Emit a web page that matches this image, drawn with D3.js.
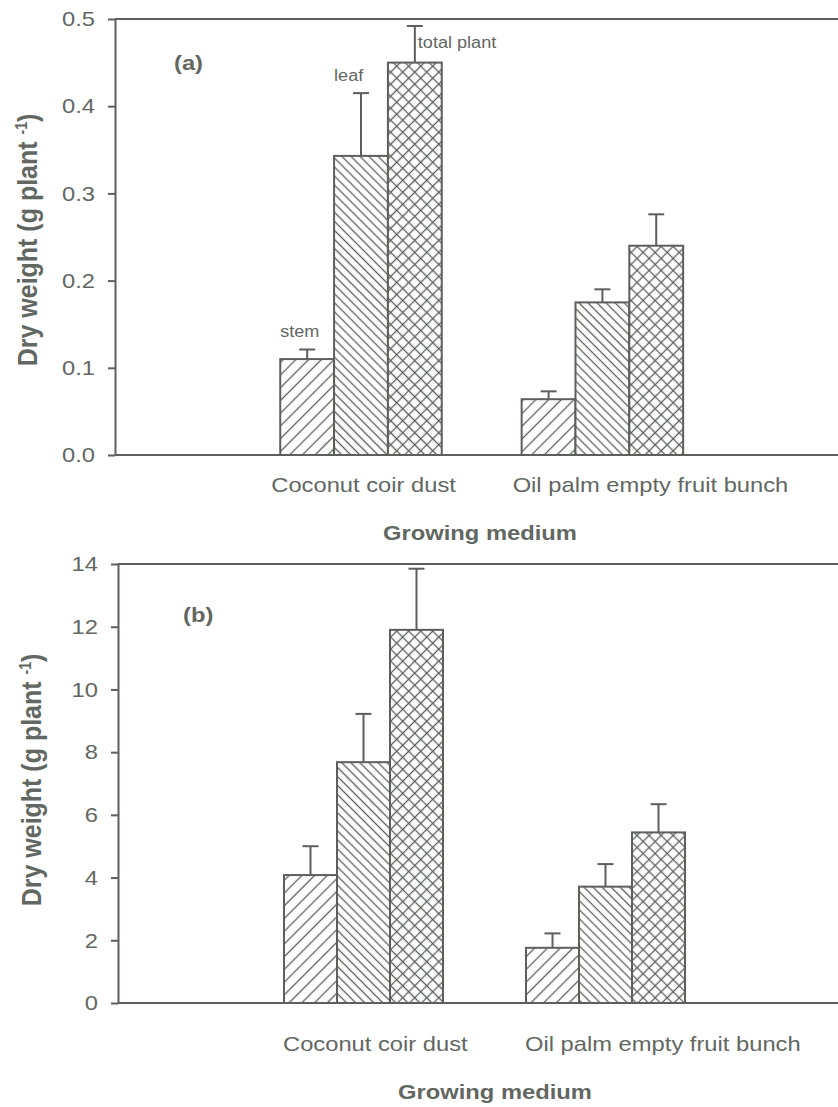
<!DOCTYPE html>
<html lang="en">
<head>
    <meta charset="UTF-8">
    <script src="https://d3js.org/d3.v7.min.js"></script>
    <style>
        body {margin: 0; background-color: #ffffff}
        svg {display: block}
        text {font-family: "Liberation Sans", Arial, sans-serif; fill: #626762}
    </style>
</head>
<body>
<svg id="chart" width="838" height="1107"></svg>
<script type="text/javascript">
    // growing media and plant parts
    const categories = ["Coconut coir dust", "Oil palm empty fruit bunch"];
    const parts = ["stem", "leaf", "total plant"];

    // (a) dry weight, g plant-1 : means and standard errors
    const a_stem = [0.110, 0.064];
    const a_stem_se = [0.011, 0.009];
    const a_leaf = [0.343, 0.175];
    const a_leaf_se = [0.072, 0.015];
    const a_total = [0.450, 0.240];
    const a_total_se = [0.042, 0.036];
    const a_ticks = [0.0, 0.1, 0.2, 0.3, 0.4, 0.5];

    // (b) dry weight, g plant-1
    const b_stem = [4.08, 1.76];
    const b_stem_se = [0.92, 0.46];
    const b_leaf = [7.68, 3.71];
    const b_leaf_se = [1.54, 0.72];
    const b_total = [11.90, 5.44];
    const b_total_se = [1.95, 0.90];
    const b_ticks = [0, 2, 4, 6, 8, 10, 12, 14];

    const ink = "#5b605b";
    const stretch = 1.13;   // the scanned figure is a bit wider than the font

    var svg = d3.select("#chart");
    var defs = svg.append("defs");

    function hatch(id, spacing, angles) {
        var p = defs.append("pattern")
            .attr("id", id)
            .attr("patternUnits", "userSpaceOnUse")
            .attr("width", spacing)
            .attr("height", spacing);
        if (angles.length == 1) p.attr("patternTransform", "rotate(" + angles[0] + ")");
        else p.attr("patternTransform", "rotate(45)");
        p.append("rect").attr("width", spacing).attr("height", spacing).attr("fill", "#fff");
        p.append("line").attr("x1", spacing / 2).attr("x2", spacing / 2).attr("y1", 0).attr("y2", spacing)
            .attr("stroke", ink).attr("stroke-width", 1.3);
        if (angles.length > 1) {
            p.append("line").attr("y1", spacing / 2).attr("y2", spacing / 2).attr("x1", 0).attr("x2", spacing)
                .attr("stroke", ink).attr("stroke-width", 1.3);
        }
    }
    hatch("h-stem", 9, [45]);
    hatch("h-leaf", 6.4, [-45]);
    hatch("h-total", 8.5, [45, -45]);
    const fills = {"stem": "url(#h-stem)", "leaf": "url(#h-leaf)", "total plant": "url(#h-total)"};

    function widen(sel) {
        sel.each(function () {
            var len = this.getComputedTextLength();
            d3.select(this).attr("textLength", len * stretch).attr("lengthAdjust", "spacingAndGlyphs");
        });
    }

    function panel(cfg) {
        var g = svg.append("g");

        var y = d3.scaleLinear().domain(cfg.domain).range([cfg.bottom, cfg.top]);
        var x0 = d3.scaleBand().domain(categories).range(cfg.xrange)
            .paddingInner(cfg.pad).paddingOuter(cfg.pad / 2);
        var x1 = d3.scaleBand().domain(parts).range([0, x0.bandwidth()]);

        var rows = [];
        categories.forEach(function (c, i) {
            parts.forEach(function (p, j) {
                rows.push({cat: c, part: p, v: cfg.means[j][i], se: cfg.errs[j][i]});
            });
        });

        // frame lines (right side is cut off in the original)
        g.append("line").attr("x1", cfg.left).attr("x2", 850).attr("y1", y(cfg.domain[1])).attr("y2", y(cfg.domain[1]))
            .attr("stroke", ink).attr("stroke-width", 2);
        g.append("line").attr("x1", cfg.left).attr("x2", 850).attr("y1", y(0)).attr("y2", y(0))
            .attr("stroke", ink).attr("stroke-width", 2);

        var axis = g.append("g")
            .attr("transform", "translate(" + cfg.left + ",0)")
            .call(d3.axisLeft(y).tickValues(cfg.ticks).tickFormat(cfg.fmt).tickSize(7).tickSizeOuter(0).tickPadding(13));
        axis.select(".domain").attr("stroke", ink).attr("stroke-width", 2);
        axis.selectAll(".tick line").attr("stroke", ink).attr("stroke-width", 2);
        axis.selectAll(".tick text").attr("fill", "#626762").style("font-size", "21px")
            .style("font-family", "'Liberation Sans', Arial, sans-serif").call(widen);

        var bars = g.selectAll(".bar").data(rows).enter().append("g");
        bars.append("rect")
            .attr("x", function (d) { return x0(d.cat) + x1(d.part); })
            .attr("width", x1.bandwidth())
            .attr("y", function (d) { return y(d.v); })
            .attr("height", function (d) { return y(0) - y(d.v); })
            .attr("fill", function (d) { return fills[d.part]; })
            .attr("stroke", ink).attr("stroke-width", 2);
        bars.append("line")
            .attr("x1", function (d) { return x0(d.cat) + x1(d.part) + x1.bandwidth() / 2; })
            .attr("x2", function (d) { return x0(d.cat) + x1(d.part) + x1.bandwidth() / 2; })
            .attr("y1", function (d) { return y(d.v); })
            .attr("y2", function (d) { return y(d.v + d.se); })
            .attr("stroke", ink).attr("stroke-width", 2);
        bars.append("line")
            .attr("x1", function (d) { return x0(d.cat) + x1(d.part) + x1.bandwidth() / 2 - 8; })
            .attr("x2", function (d) { return x0(d.cat) + x1(d.part) + x1.bandwidth() / 2 + 8; })
            .attr("y1", function (d) { return y(d.v + d.se); })
            .attr("y2", function (d) { return y(d.v + d.se); })
            .attr("stroke", ink).attr("stroke-width", 2);

        // category labels, left aligned under each group as in the original
        g.selectAll(".cat").data(categories).enter().append("text")
            .attr("x", function (d) { return x0(d) + cfg.labelShift; })
            .attr("y", y(0) + cfg.labelDrop)
            .style("font-size", "21px")
            .text(function (d) { return d; })
            .call(widen);

        g.append("text")
            .attr("x", cfg.titleX).attr("y", y(0) + cfg.titleDrop)
            .attr("text-anchor", "middle")
            .style("font-size", "21px").style("font-weight", "bold")
            .text("Growing medium")
            .call(widen);

        var yt = g.append("text")
            .attr("transform", "translate(" + cfg.ytX + "," + cfg.ytY + ") scale(" + stretch + ",1) rotate(-90)")
            .attr("text-anchor", "middle")
            .style("font-size", "25px").style("font-weight", "bold");
        yt.append("tspan").text("Dry weight (g plant ");
        yt.append("tspan").attr("dy", -9).style("font-size", "14px").text("-1");
        yt.append("tspan").attr("dy", 9).text(")");

        g.append("text")
            .attr("x", cfg.tagX).attr("y", cfg.tagY)
            .style("font-size", "21px").style("font-weight", "bold")
            .text(cfg.tag).call(widen);

        return {x0: x0, x1: x1, y: y, g: g};
    }

    var pa = panel({
        domain: [0, 0.5], ticks: a_ticks, fmt: d3.format(".1f"),
        top: 19, bottom: 455, left: 115, xrange: [240.3, 723.1], pad: 0.331,
        means: [a_stem, a_leaf, a_total], errs: [a_stem_se, a_leaf_se, a_total_se],
        labelShift: -9, labelDrop: 37, titleX: 480, titleDrop: 85,
        ytX: 37, ytY: 240, tag: "(a)", tagX: 174, tagY: 70
    });

    // part names written next to the first group of panel (a)
    pa.g.selectAll(".part").data(parts).enter().append("text")
        .attr("x", function (d, j) {
            var c = pa.x0(categories[0]) + pa.x1(d);
            return j == 2 ? c + pa.x1.bandwidth() / 2 + 3 : c;
        })
        .attr("y", function (d, j) {
            var top = [a_stem, a_leaf, a_total][j][0] + [a_stem_se, a_leaf_se, a_total_se][j][0];
            return j == 2 ? pa.y(top) + 22 : pa.y(top) - 12;
        })
        .style("font-size", "16px")
        .text(function (d) { return d; })
        .call(widen);

    panel({
        domain: [0, 14], ticks: b_ticks, fmt: d3.format("d"),
        top: 564, bottom: 1003, left: 118, xrange: [242.5, 726.5], pad: 0.343,
        means: [b_stem, b_leaf, b_total], errs: [b_stem_se, b_leaf_se, b_total_se],
        labelShift: -1, labelDrop: 48, titleX: 495, titleDrop: 96,
        ytX: 41, ytY: 780, tag: "(b)", tagX: 183, tagY: 622
    });
</script>
</body>
</html>
